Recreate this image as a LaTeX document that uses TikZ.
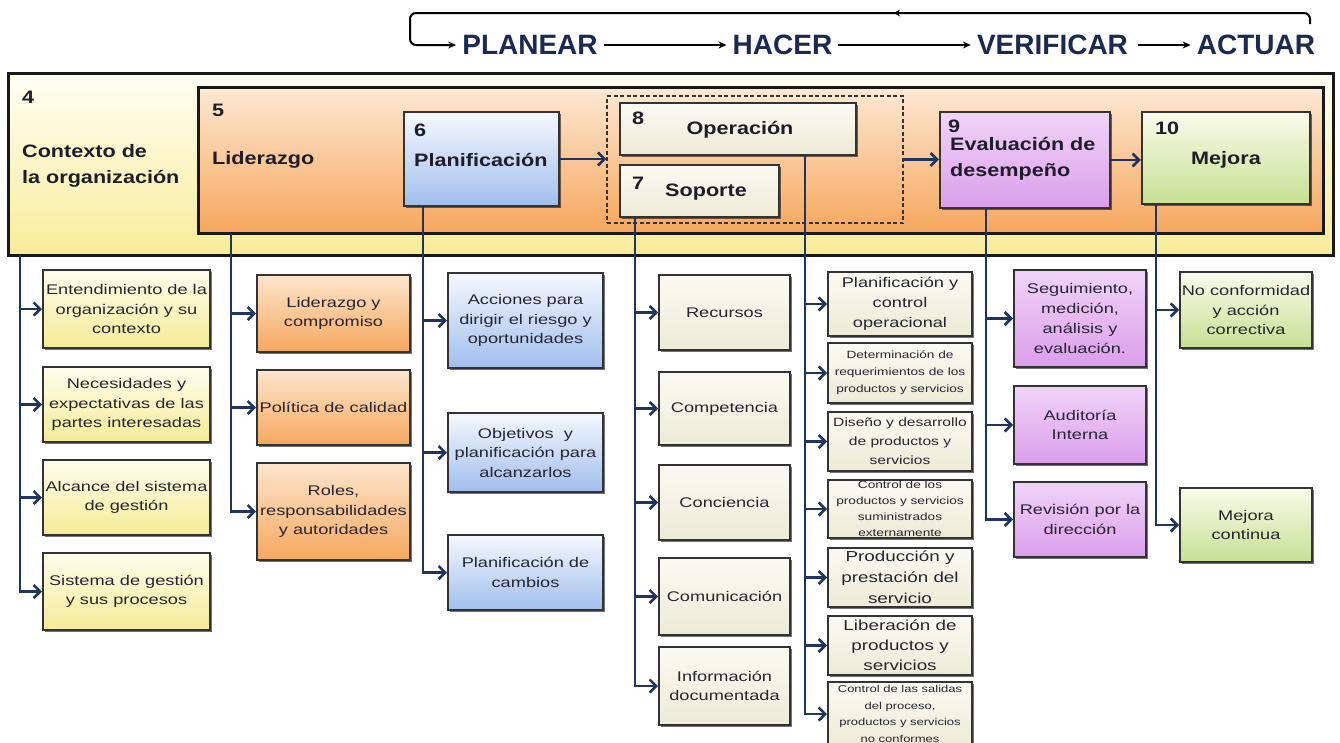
\documentclass[tikz,border=0pt]{standalone}
\usepackage{fontspec}
\setmainfont{Liberation Sans}
\newfontfamily\bxf[FakeStretch=1.3]{Liberation Sans}
\newfontfamily\hdf[FakeStretch=1.2]{Liberation Sans}
\usetikzlibrary{arrows.meta,shadows}
\definecolor{navy}{HTML}{1F3461}
\definecolor{ttl}{HTML}{1B2A55}
\definecolor{bordc}{HTML}{333333}
\definecolor{txtc}{HTML}{262633}
\definecolor{hdc}{HTML}{1E1E2A}
\begin{document}
\begin{tikzpicture}[x=1pt,y=-1pt,
  sub/.style={draw=bordc, line width=2pt, inner sep=1pt, align=center, text=txtc,
    font=\bxf\fontsize{14}{19.5}\selectfont,
    drop shadow={shadow xshift=1.6pt, shadow yshift=-1.6pt, fill=black, opacity=0.55}},
  main/.style={draw=bordc, line width=2.2pt, inner sep=0pt,
    drop shadow={shadow xshift=1.6pt, shadow yshift=-1.6pt, fill=black, opacity=0.55}},
  yel/.style={top color={rgb,255:red,254;green,253;blue,236}, bottom color={rgb,255:red,245;green,235;blue,150}},
  ora/.style={top color={rgb,255:red,253;green,229;blue,204}, bottom color={rgb,255:red,245;green,168;blue,94}},
  blu/.style={top color={rgb,255:red,245;green,248;blue,254}, bottom color={rgb,255:red,160;green,190;blue,236}},
  cre/.style={top color={rgb,255:red,250;green,250;blue,243}, bottom color={rgb,255:red,236;green,235;blue,214}},
  pur/.style={top color={rgb,255:red,240;green,212;blue,247}, bottom color={rgb,255:red,219;green,158;blue,235}},
  grn/.style={top color={rgb,255:red,248;green,251;blue,234}, bottom color={rgb,255:red,198;green,224;blue,146}},
  hd/.style={inner sep=0pt, anchor=west, align=left, text=hdc, font=\hdf\bfseries\fontsize{18}{26}\selectfont},
  ph/.style={inner sep=6pt, text=ttl, font=\bfseries\fontsize{28}{30}\selectfont},
  harr/.style={draw=black, line width=2pt, -{Stealth[length=8pt,width=7pt]}},
  conn/.style={draw=navy, line width=2.6pt, -{Straight Barb[length=6.5pt,width=13pt]}}
]
\useasboundingbox (0,0) rectangle (1340,742);
\clip (0,0) rectangle (1340,742);
\fill[white] (0,0) rectangle (1340,742);

% ---------- PDCA header ----------
\node[ph] (plan) at (530,45) {PLANEAR};
\node[ph] (hacer) at (782.5,45) {HACER};
\node[ph] (verif) at (1052.5,45) {VERIFICAR};
\node[ph] (actuar) at (1256,45) {ACTUAR};
\draw[harr] (plan.east) -- (hacer.west);
\draw[harr] (hacer.east) -- (verif.west);
\draw[harr, shorten <=4pt] (verif.east) -- (actuar.west);
\coordinate (lp1) at (1310,24);
\coordinate (lp2) at (410,13);
\draw[harr, rounded corners=6pt] (lp1) |- (lp2) |- (plan.west);
\coordinate (mk) at (894,13);
\draw[draw=black, line width=2pt, -{Stealth[length=6pt,width=7pt]}] ([xshift=8pt]mk) -- (mk);

% ---------- main band ----------
\node[draw=black!90, line width=3pt, minimum width=1325pt, minimum height=182pt, inner sep=0pt,
  top color={rgb,255:red,255;green,254;blue,244}, bottom color={rgb,255:red,249;green,236;blue,152}] (m4) at (670.5,164) {};
\node[draw=black!90, line width=3pt, minimum width=1125pt, minimum height=146pt, inner sep=0pt,
  top color={rgb,255:red,253;green,233;blue,212}, bottom color={rgb,255:red,246;green,166;blue,92}] (m5) at (760.5,160) {};
\node[main, blu, minimum width=155pt, minimum height=94pt] (m6) at (481.5,159) {};
\node[draw=bordc, line width=1.5pt, dash pattern=on 4pt off 2.5pt, minimum width=296pt, minimum height=127pt, inner sep=0pt] (d) at (755,159.5) {};
\node[main, cre, minimum width=236pt, minimum height=52pt] (m8) at (738,129) {};
\node[main, cre, minimum width=159pt, minimum height=52pt] (m7) at (699.5,191) {};
\node[main, pur, minimum width=170pt, minimum height=96pt] (m9) at (1025,160) {};
\node[main, grn, minimum width=168pt, minimum height=92pt] (m10) at (1226,158) {};

\node[hd] (n4) at (22,97) {4};
\node[hd] (t4) at (22,166) {Contexto de\\la organización};
\node[hd] (n5) at (212,110) {5};
\node[hd] (t5) at (212,160) {Liderazgo};
\node[hd] (n6) at (414,130) {6};
\node[hd] (t6) at (414,160) {Planificación};
\node[hd] (n8) at (632,118) {8};
\node[hd, anchor=center] (t8) at (740,130) {Operación};
\node[hd] (n7) at (632,183) {7};
\node[hd, anchor=center] (t7) at (706,192) {Soporte};
\node[hd] (n9) at (948,126) {9};
\node[hd] (t9) at (950,159) {Evaluación de\\desempeño};
\node[hd] (n10) at (1155,128) {10};
\node[hd, anchor=center] (t10) at (1226,160) {Mejora};

\draw[conn] (m6.east) -- (m6.east -| d.west);
\draw[conn] (d.east) -- (d.east -| m9.west);
\draw[conn] (m9.east) -- (m9.east -| m10.west);

% ---------- column 4 ----------
\node[sub, yel, minimum width=167pt, minimum height=78pt] (b41) at (126.5,309) {Entendimiento de la\\organización y su\\contexto};
\node[sub, yel, minimum width=167pt, minimum height=75pt] (b42) at (126.5,404.5) {Necesidades y\\expectativas de las\\partes interesadas};
\node[sub, yel, minimum width=167pt, minimum height=75pt] (b43) at (126.5,497.5) {Alcance del sistema\\de gestión};
\node[sub, yel, minimum width=167pt, minimum height=77pt] (b44) at (126.5,591.5) {Sistema de gestión\\y sus procesos};
\coordinate (s4) at (20,255);
\foreach \b in {b41,b42,b43,b44} \draw[conn] (s4) |- (\b.west);

% ---------- column 5 ----------
\node[sub, ora, minimum width=153pt, minimum height=77pt] (b51) at (333.5,313.5) {Liderazgo y\\compromiso};
\node[sub, ora, minimum width=153pt, minimum height=75pt] (b52) at (333.5,407.5) {Política de calidad};
\node[sub, ora, minimum width=153pt, minimum height=97pt] (b53) at (333.5,511.5) {Roles,\\responsabilidades\\y autoridades};
\coordinate (s5) at (231,233);
\foreach \b in {b51,b52,b53} \draw[conn] (s5) |- (\b.west);

% ---------- column 6 ----------
\node[sub, blu, minimum width=155pt, minimum height=95pt] (b61) at (525.5,320.5) {Acciones para\\dirigir el riesgo y\\oportunidades};
\node[sub, blu, minimum width=155pt, minimum height=79pt] (b62) at (525.5,452.5) {Objetivos~ y\\planificación para\\alcanzarlos};
\node[sub, blu, minimum width=155pt, minimum height=75pt] (b63) at (525.5,572.5) {Planificación de\\cambios};
\coordinate (s6) at (423,206);
\foreach \b in {b61,b62,b63} \draw[conn] (s6) |- (\b.west);

% ---------- column 7 ----------
\node[sub, cre, minimum width=131pt, minimum height=75pt] (b71) at (724.5,312.5) {Recursos};
\node[sub, cre, minimum width=131pt, minimum height=73pt] (b72) at (724.5,408.5) {Competencia};
\node[sub, cre, minimum width=131pt, minimum height=75pt] (b73) at (724.5,502.5) {Conciencia};
\node[sub, cre, minimum width=131pt, minimum height=77pt] (b74) at (724.5,596.5) {Comunicación};
\node[sub, cre, minimum width=131pt, minimum height=78pt] (b75) at (724.5,686) {Información\\documentada};
\coordinate (s7) at (635,217);
\foreach \b in {b71,b72,b73,b74,b75} \draw[conn] (s7) |- (\b.west);

% ---------- column 8 ----------
\node[sub, cre, minimum width=144pt, minimum height=64pt, font=\bxf\fontsize{14}{20}\selectfont] (b81) at (900,304) {Planificación y\\control\\operacional};
\node[sub, cre, minimum width=144pt, minimum height=60pt, font=\bxf\fontsize{10.5}{17}\selectfont] (b82) at (900,373) {Determinación de\\requerimientos de los\\productos y servicios};
\node[sub, cre, minimum width=144pt, minimum height=59pt, font=\bxf\fontsize{12}{19}\selectfont] (b83) at (900,441.5) {Diseño y desarrollo\\de productos y\\servicios};
\node[sub, cre, minimum width=144pt, minimum height=58pt, font=\bxf\fontsize{10.5}{16}\selectfont] (b84) at (900,509) {Control de los\\productos y servicios\\suministrados\\externamente};
\node[sub, cre, minimum width=144pt, minimum height=59pt, font=\bxf\fontsize{14.5}{21}\selectfont] (b85) at (900,577.5) {Producción y\\prestación del\\servicio};
\node[sub, cre, minimum width=144pt, minimum height=59pt, font=\bxf\fontsize{14.5}{20}\selectfont] (b86) at (900,645.5) {Liberación de\\productos y\\servicios};
\node[sub, cre, minimum width=144pt, minimum height=64pt, font=\bxf\fontsize{10}{16.5}\selectfont] (b87) at (900,714) {Control de las salidas\\del proceso,\\productos y servicios\\no conformes};
\coordinate (s8) at (805,155);
\foreach \b in {b81,b82,b83,b84,b85,b86,b87} \draw[conn] (s8) |- (\b.west);

% ---------- column 9 ----------
\node[sub, pur, minimum width=132pt, minimum height=97pt, font=\bxf\fontsize{14}{20}\selectfont] (b91) at (1080,318.5) {Seguimiento,\\medición,\\análisis y\\evaluación.};
\node[sub, pur, minimum width=132pt, minimum height=78pt] (b92) at (1080,425) {Auditoría\\Interna};
\node[sub, pur, minimum width=132pt, minimum height=75pt] (b93) at (1080,519.5) {Revisión por la\\dirección};
\coordinate (s9) at (986,208);
\foreach \b in {b91,b92,b93} \draw[conn] (s9) |- (\b.west);

% ---------- column 10 ----------
\node[sub, grn, minimum width=132pt, minimum height=76pt] (b101) at (1246,310) {No conformidad\\y acción\\correctiva};
\node[sub, grn, minimum width=132pt, minimum height=74pt] (b102) at (1246,525) {Mejora\\continua};
\coordinate (s10) at (1156,204);
\foreach \b in {b101,b102} \draw[conn] (s10) |- (\b.west);
\end{tikzpicture}
\end{document}
